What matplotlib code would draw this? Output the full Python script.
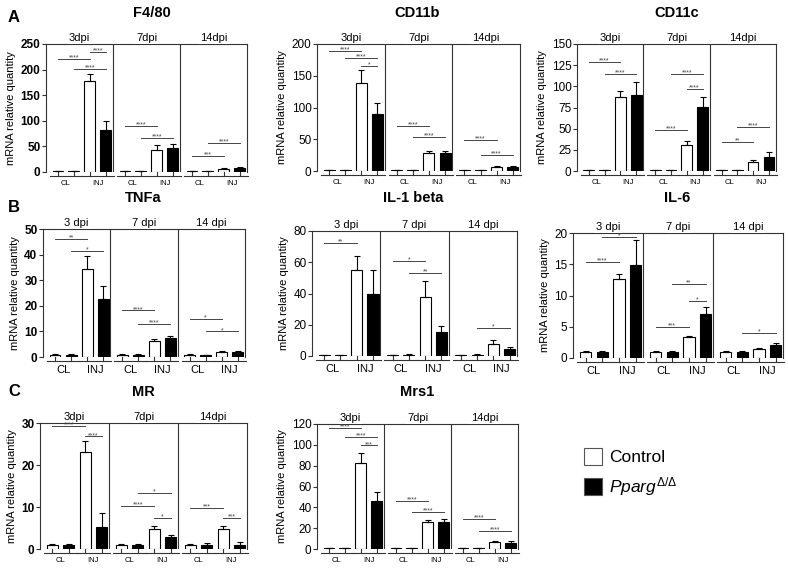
import matplotlib
matplotlib.use('Agg')
import matplotlib.pyplot as plt
from matplotlib.patches import Patch

plt.rcParams['font.family'] = ['Liberation Sans', 'DejaVu Sans']
plt.rcParams['mathtext.fontset'] = 'custom'
plt.rcParams['mathtext.it'] = 'Liberation Sans:italic'
plt.rcParams['mathtext.rm'] = 'Liberation Sans'

# bar order in every panel: 3dpi CL ctrl, CL ko, INJ ctrl, INJ ko | 7dpi ... | 14dpi ...
f480_mean = [1, 1, 177, 83, 1, 1, 42, 47, 1, 1, 6, 7]
f480_err = [0, 0, 14, 16, 0, 0, 10, 8, 0, 0, 1, 2]
f480_sig = [(0, 2, 221, '****'), (1, 3, 201, '****'), (2, 3, 234, '****'),
            (4, 6, 90, '****'), (5, 7, 66, '****'), (8, 10, 31, '***'), (9, 11, 57, '****')]

cd11b_mean = [1, 1, 139, 90, 1, 1, 28, 29, 1, 1, 7, 6]
cd11b_err = [0, 0, 20, 17, 0, 0, 3, 3, 0, 0, 1, 1.5]
cd11b_sig = [(0, 2, 189, '****'), (1, 3, 178, '****'), (2, 3, 165, '*'),
             (4, 6, 71, '****'), (5, 7, 53, '****'), (8, 10, 49, '****'), (9, 11, 25, '****')]

cd11c_mean = [1, 1, 87, 90, 1, 1, 31, 76, 1, 1, 11, 17]
cd11c_err = [0.3, 0.3, 8, 15, 0, 0.3, 4, 11, 0.3, 0.3, 2, 5]
cd11c_sig = [(0, 2, 129, '****'), (1, 3, 115, '****'), (4, 6, 49, '****'),
             (5, 7, 115, '****'), (6, 7, 97, '****'), (8, 10, 34, '**'), (9, 11, 52, '****')]

tnfa_mean = [0.9, 0.9, 34.5, 22.5, 0.9, 0.9, 6.4, 7.5, 0.9, 0.8, 2.1, 2.0]
tnfa_err = [0.1, 0.1, 4.8, 5.2, 0.1, 0.1, 0.5, 0.7, 0.1, 0.1, 0.3, 0.2]
tnfa_sig = [(0, 2, 46, '**'), (1, 3, 41.3, '*'), (4, 6, 18.2, '****'),
            (5, 7, 13, '****'), (8, 10, 14.8, '*'), (9, 11, 10, '*')]

il1b_mean = [0.5, 0.5, 55, 40, 0.5, 0.7, 38, 15.5, 0.5, 0.5, 7.5, 4.5]
il1b_err = [0.2, 0.2, 9, 15, 0.2, 0.6, 10, 3.8, 0.1, 0.6, 2.5, 1.2]
il1b_sig = [(0, 2, 72.5, '**'), (4, 6, 61, '*'), (5, 7, 53, '**'), (9, 11, 17.7, '*')]

il6_mean = [1.0, 1.0, 12.6, 14.9, 1.0, 1.0, 3.3, 7.0, 1.0, 1.0, 1.5, 2.1]
il6_err = [0.2, 0.1, 0.8, 4.0, 0.1, 0.1, 0.2, 1.1, 0.2, 0.1, 0.1, 0.3]
il6_sig = [(0, 2, 15.4, '****'), (1, 3, 19.3, '*'), (4, 6, 5, '***'),
           (5, 7, 11.9, '**'), (6, 7, 9.2, '*'), (9, 11, 4, '*')]

mr_mean = [1.0, 1.0, 23.0, 5.2, 1.0, 1.0, 4.8, 2.8, 1.0, 1.0, 4.8, 1.0]
mr_err = [0.3, 0.3, 2.8, 3.4, 0.2, 0.1, 0.7, 0.5, 0.1, 0.4, 0.7, 0.7]
mr_sig = [(0, 2, 29.2, '****'), (2, 3, 26.8, '****'), (4, 6, 10.3, '****'),
          (5, 7, 13.3, '*'), (6, 7, 7.5, '*'), (8, 10, 9.8, '***'), (10, 11, 7.5, '***')]

mrs1_mean = [0.5, 0.5, 83, 46, 0.5, 0.5, 26, 26, 0.5, 0.5, 6.5, 6]
mrs1_err = [0, 0, 9, 9, 0, 0, 2, 3, 0, 0, 1, 1.5]
mrs1_sig = [(0, 2, 116.6, '****'), (1, 3, 107.7, '****'), (2, 3, 99.4, '***'),
            (4, 6, 46.3, '****'), (5, 7, 36, '****'), (8, 10, 29, '****'), (9, 11, 17.6, '****')]

dpi_nospace = ['3dpi', '7dpi', '14dpi']
dpi_space = ['3 dpi', '7 dpi', '14 dpi']
groups = ['CL', 'INJ']

W, H = 788, 573
fig = plt.figure(figsize=(W / 100, H / 100), dpi=100)


def rect(l, r, t, b):
    return [l / W, 1 - b / H, (r - l) / W, (b - t) / H]


SEC = 4.2
xs = [s * SEC + 0.75 + j for s in range(3) for j in range(4)]
AX = '#333333'

# (title, mean, err, sig, ymax, ticks, dpi labels, rect, bold ticks, group font, title pos)
panels = [
    ('F4/80', f480_mean, f480_err, f480_sig, 250, [0, 50, 100, 150, 200, 250], dpi_nospace,
     rect(46, 247, 44, 172), True, 5.5, (152, 13)),
    ('CD11b', cd11b_mean, cd11b_err, cd11b_sig, 200, [0, 50, 100, 150, 200], dpi_nospace,
     rect(317, 520, 44, 171), False, 5.5, (417, 13)),
    ('CD11c', cd11c_mean, cd11c_err, cd11c_sig, 150, [0, 25, 50, 75, 100, 125, 150], dpi_nospace,
     rect(577, 776, 44, 171), False, 5.5, (677, 13)),
    ('TNFa', tnfa_mean, tnfa_err, tnfa_sig, 50, [0, 10, 20, 30, 40, 50], dpi_space,
     rect(43, 245, 229, 357), True, 8, (143, 198)),
    ('IL-1 beta', il1b_mean, il1b_err, il1b_sig, 80, [0, 20, 40, 60, 80], dpi_space,
     rect(312, 517, 231, 356), False, 8, (413, 198)),
    ('IL-6', il6_mean, il6_err, il6_sig, 20, [0, 5, 10, 15, 20], dpi_space,
     rect(573, 783, 233, 358), False, 8, (677, 198)),
    ('MR', mr_mean, mr_err, mr_sig, 30, [0, 10, 20, 30], dpi_nospace,
     rect(40, 247, 423, 549), True, 5.5, (143, 392)),
    ('Mrs1', mrs1_mean, mrs1_err, mrs1_sig, 120, [0, 20, 40, 60, 80, 100, 120], dpi_nospace,
     rect(317, 518, 424, 549), False, 5.5, (417, 392)),
]

for title, mean, err, sig, ymax, ticks, dpis, r, bold, gfs, tpos in panels:
    ax = fig.add_axes(r)
    colors = ['white', 'black'] * 6
    ax.bar(xs, mean, width=0.68, color=colors, edgecolor='black', linewidth=0.8, zorder=2)
    ax.errorbar(xs, mean, yerr=[[0] * 12, err], fmt='none', ecolor='black',
                elinewidth=0.8, capsize=2, capthick=0.8, zorder=3)
    ax.set_xlim(0, 3 * SEC)
    ax.set_ylim(0, ymax)
    ax.set_yticks(ticks)
    ax.tick_params(axis='y', labelsize=8.5, length=3, width=0.8, color=AX, pad=1)
    if bold:
        for t in ax.get_yticklabels():
            t.set_fontweight('bold')
    ax.set_xticks([])
    ax.set_ylabel('mRNA relative quantity', fontsize=8, labelpad=3)
    for side in ['left', 'right', 'top']:
        ax.spines[side].set_color(AX)
        ax.spines[side].set_linewidth(0.8)
    ax.spines['bottom'].set_visible(False)
    for s in range(1, 3):
        ax.axvline(s * SEC, color=AX, lw=0.8)
    trans = ax.get_xaxis_transform()
    for s in range(3):
        ax.annotate(dpis[s], xy=((s + 0.5) * SEC, 1.0), xycoords=trans,
                    xytext=(0, 0.8), textcoords='offset points', ha='center', va='bottom',
                    fontsize=8, zorder=6, annotation_clip=False,
                    bbox=dict(facecolor='white', edgecolor='none', pad=1.0))
        for g in range(2):
            a = xs[s * 4 + g * 2]
            b = xs[s * 4 + g * 2 + 1]
            ax.plot([a - 0.5, b + 0.5], [-0.028, -0.028], transform=trans, color=AX,
                    lw=0.8, clip_on=False)
            for xv in (a, b):
                ax.plot([xv, xv], [-0.028, 0], transform=trans, color=AX, lw=0.8,
                        clip_on=False)
            ax.text((a + b) / 2, -0.06, groups[g], transform=trans, ha='center', va='top',
                    fontsize=gfs)
    for i, j, y, lab in sig:
        ax.plot([xs[i], xs[j]], [y, y], color='#444444', lw=0.7, zorder=4)
        ax.annotate(lab, xy=((xs[i] + xs[j]) / 2, y), xytext=(0, -1.8),
                    textcoords='offset points', ha='center', va='bottom', fontsize=5,
                    color='#444444', zorder=7)
    fig.text(tpos[0] / W, 1 - tpos[1] / H, title, ha='center', va='center',
             fontsize=10.5, fontweight='bold')

for lab, y in [('A', 17), ('B', 207), ('C', 391)]:
    fig.text(8 / W, 1 - y / H, lab, ha='left', va='center', fontsize=12, fontweight='bold')

handles = [Patch(facecolor='white', edgecolor='#555555', linewidth=0.8),
           Patch(facecolor='black', edgecolor='#555555', linewidth=0.8)]
fig.legend(handles, ['Control', r'$\mathit{Pparg}^{\mathit{\Delta/\Delta}}$'],
           loc='upper left', bbox_to_anchor=(568 / W, 1 - 432 / H), frameon=False,
           fontsize=12.5, handlelength=1.05, handleheight=1.2, handletextpad=0.4,
           labelspacing=0.55)

fig.savefig('out.png', dpi=100)
